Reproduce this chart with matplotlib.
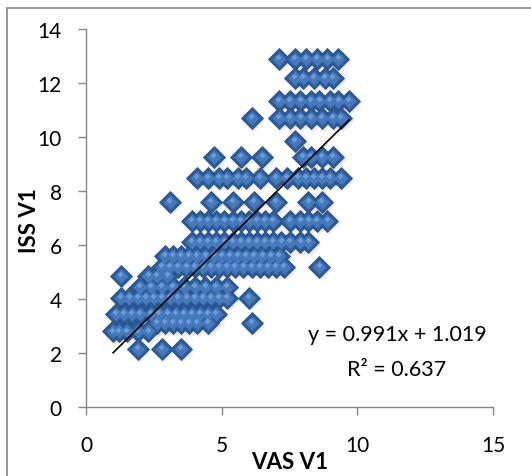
import numpy as np
import matplotlib
matplotlib.use("Agg")
import matplotlib.pyplot as plt
from matplotlib.patches import Rectangle

plt.rcParams['font.family'] = ['Lato', 'DejaVu Sans']

# ISS V1 level -> VAS V1 values, row by row
rows = [
    (12.9, [7.1, 7.7, 8.1, 8.5, 8.9, 9.3]),
    (12.2, [7.7, 8.0, 8.4, 8.8, 9.1]),
    (11.35, [7.1, 7.5, 7.9, 8.3, 8.6, 9.0, 9.3, 9.7]),
    (10.7, [6.1, 7.1, 7.5, 7.9, 8.3, 8.7, 9.1, 9.4]),
    (9.85, [7.7]),
    (9.25, [4.7, 5.7, 6.5, 8.0, 8.3, 8.7, 9.1]),
    (8.5, [4.1, 4.5, 4.9, 5.2, 5.6, 5.9, 6.4, 7.0, 7.4, 7.8, 8.1, 8.4, 8.7, 9.0, 9.4]),
    (7.6, [3.1, 4.6, 5.4, 6.2, 7.0, 8.2, 8.7]),
    (6.9, [3.9, 4.2, 4.5, 4.8, 5.1, 5.4, 5.7, 6.0, 6.3, 6.6, 6.9, 7.5, 7.9, 8.2, 8.5, 8.9]),
    (6.1, [3.9, 4.2, 4.5, 4.8, 5.1, 5.4, 5.7, 6.0, 6.3, 6.6, 6.9, 7.2, 7.5, 7.9, 8.2]),
    (5.6, [2.9, 3.2, 3.5, 3.8, 4.1, 4.4, 4.7, 5.0, 5.3, 5.6, 5.9, 6.2, 6.5, 6.8, 7.1]),
    (5.2, [2.8, 3.1, 3.4, 3.7, 4.0, 4.3, 4.6, 4.9, 5.2, 5.5, 5.8, 6.1, 6.4, 6.7, 7.0, 7.3, 8.6]),
    (4.85, [1.3, 2.3, 2.6, 3.0]),
    (4.45, [2.0, 2.4, 2.8, 3.2, 3.6, 4.0, 4.4, 4.8, 5.2]),
    (4.05, [1.3, 1.6, 1.9, 2.2, 2.5, 2.8, 3.1, 3.4, 3.7, 4.0, 4.3, 4.6, 4.9, 5.2, 6.0]),
    (3.45, [1.1, 1.4, 1.7, 2.0, 2.4, 2.7, 3.0, 3.3, 3.6, 3.9, 4.2, 4.5, 4.8]),
    (3.1, [2.6, 2.9, 3.2, 3.5, 3.8, 4.1, 4.5, 6.1]),
    (2.8, [1.0, 1.2, 1.5, 1.9, 2.3]),
    (2.15, [1.9, 2.8, 3.5]),
]

vas_v1 = np.array([v for iss, vs in rows for v in vs])
iss_v1 = np.array([iss for iss, vs in rows for v in vs])

# trendline as printed on the chart
slope = 0.991
intercept = 1.019
r2 = 0.637

fig = plt.figure(figsize=(5.31, 4.77), dpi=100)
ax = fig.add_axes([86/531, 1-408/477, 407/531, 378/477])

grey = '#868686'

# chart border
fig.patches.append(Rectangle((7/531, -0.1), 1.2, 1.1 - 9/477, transform=fig.transFigure,
                             fill=False, edgecolor=grey, linewidth=1.2))

# diamonds with a bit of shading
ax.plot(vas_v1 + 0.07, iss_v1 - 0.09, 'D', ms=11, color='#cfc8be', alpha=0.35, mec='none')
ax.plot(vas_v1, iss_v1, 'D', ms=11, color='#2d5c9a', mec='#285083', mew=0.6)
ax.plot(vas_v1, iss_v1, 'D', ms=7, color='#4679bb', mec='none')
ax.plot(vas_v1 - 0.03, iss_v1 + 0.07, 'D', ms=3, color='#6c9cd6', mec='none')

xs = np.array([vas_v1.min(), vas_v1.max()])
ax.plot(xs, slope * xs + intercept, color='black', lw=1.2)

ax.set_xlim(0, 15)
ax.set_ylim(0, 14)
ax.set_xticks([0, 5, 10, 15])
ax.set_yticks(range(0, 15, 2))

for s in ['top', 'right']:
    ax.spines[s].set_visible(False)
for s in ['left', 'bottom']:
    ax.spines[s].set_color(grey)
    ax.spines[s].set_linewidth(1.0)
ax.tick_params(axis='both', colors=grey, labelcolor='black', length=5.5, width=1.0, labelsize=15)
ax.tick_params(axis='y', pad=12)
ax.tick_params(axis='x', pad=15)

ax.set_xlabel('VAS V1', fontsize=16, fontweight='bold', va='center')
ax.xaxis.set_label_coords(0.5, -0.1455)
ax.set_ylabel('ISS V1', fontsize=16, fontweight='bold', va='center')
ax.yaxis.set_label_coords(-0.14, 0.497)

ax.text(0.764, 0.193, 'y = %.3fx + %.3f' % (slope, intercept), transform=ax.transAxes,
        ha='center', va='center', fontsize=15.5)
ax.text(0.764, 0.1005, 'R² = %.3f' % r2, transform=ax.transAxes,
        ha='center', va='center', fontsize=15.5)

fig.savefig('out.png', dpi=100)
